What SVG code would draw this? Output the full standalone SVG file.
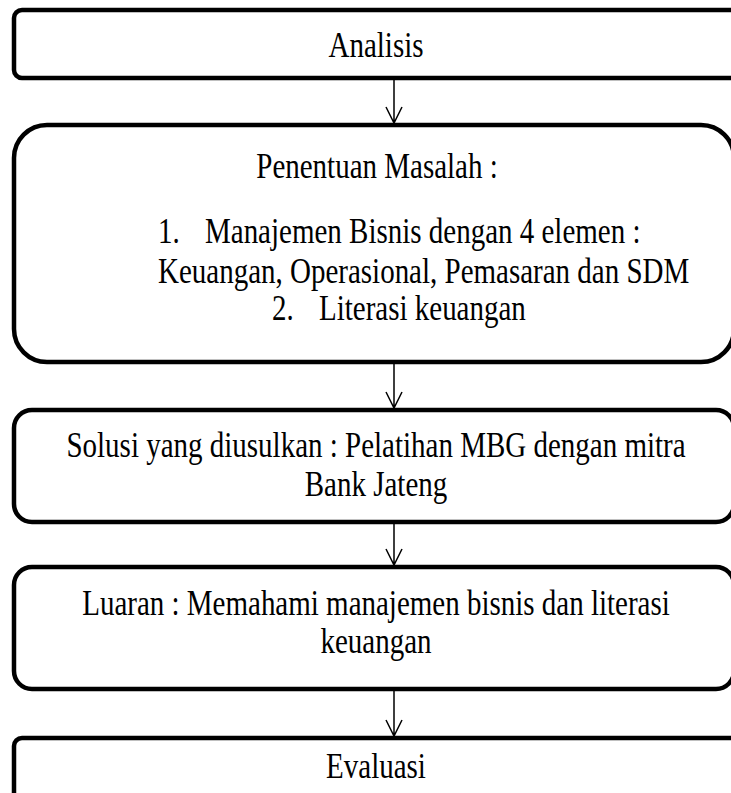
<svg xmlns="http://www.w3.org/2000/svg" width="731" height="793" viewBox="0 0 731 793">
<style>
.box{fill:#fff;stroke:#000;stroke-width:4.5}
.t{font-family:"Liberation Serif","Times New Roman",serif;font-size:29px;fill:#000}
.c{text-anchor:middle}
.ar{fill:none;stroke:#000;stroke-width:1.5}
</style>
<rect width="731" height="793" fill="#fff"/>
<g id="n1"><rect class="box" x="14" y="10" width="730" height="68" rx="8"/>
<text class="t c" transform="translate(376,57) scale(1,1.2)">Analisis</text></g>
<g id="n2"><rect class="box" x="14" y="125" width="720" height="237" rx="33"/>
<text class="t c" transform="translate(377,178) scale(1,1.2)">Penentuan Masalah :</text>
<text class="t" transform="translate(158,243) scale(1,1.2)">1.<tspan x="47">Manajemen Bisnis dengan 4 elemen :</tspan></text>
<text class="t" transform="translate(158,283) scale(1,1.2)">Keuangan, Operasional, Pemasaran dan SDM</text>
<text class="t" transform="translate(272,320) scale(1,1.2)">2.<tspan x="47">Literasi keuangan</tspan></text></g>
<g id="n3"><rect class="box" x="14" y="410" width="720" height="112" rx="18"/>
<text class="t c" transform="translate(376,457) scale(1,1.2)">Solusi yang diusulkan : Pelatihan MBG dengan mitra</text>
<text class="t c" transform="translate(376,496) scale(1,1.2)">Bank Jateng</text></g>
<g id="n4"><rect class="box" x="14" y="567" width="720" height="122" rx="18"/>
<text class="t c" transform="translate(376,615) scale(1,1.2)">Luaran : Memahami manajemen bisnis dan literasi</text>
<text class="t c" transform="translate(376,653) scale(1,1.2)">keuangan</text></g>
<g id="n5"><rect class="box" x="14" y="738" width="730" height="70" rx="8"/>
<text class="t c" transform="translate(376,778) scale(1,1.2)">Evaluasi</text></g>
<g id="edges">
<path class="ar" d="M394 78V123M386 107L394 123L402 107"/>
<path class="ar" d="M394 362V408M386 392L394 408L402 392"/>
<path class="ar" d="M394 522V565M386 549L394 565L402 549"/>
<path class="ar" d="M394 689V736M386 720L394 736L402 720"/>
</g>
</svg>
